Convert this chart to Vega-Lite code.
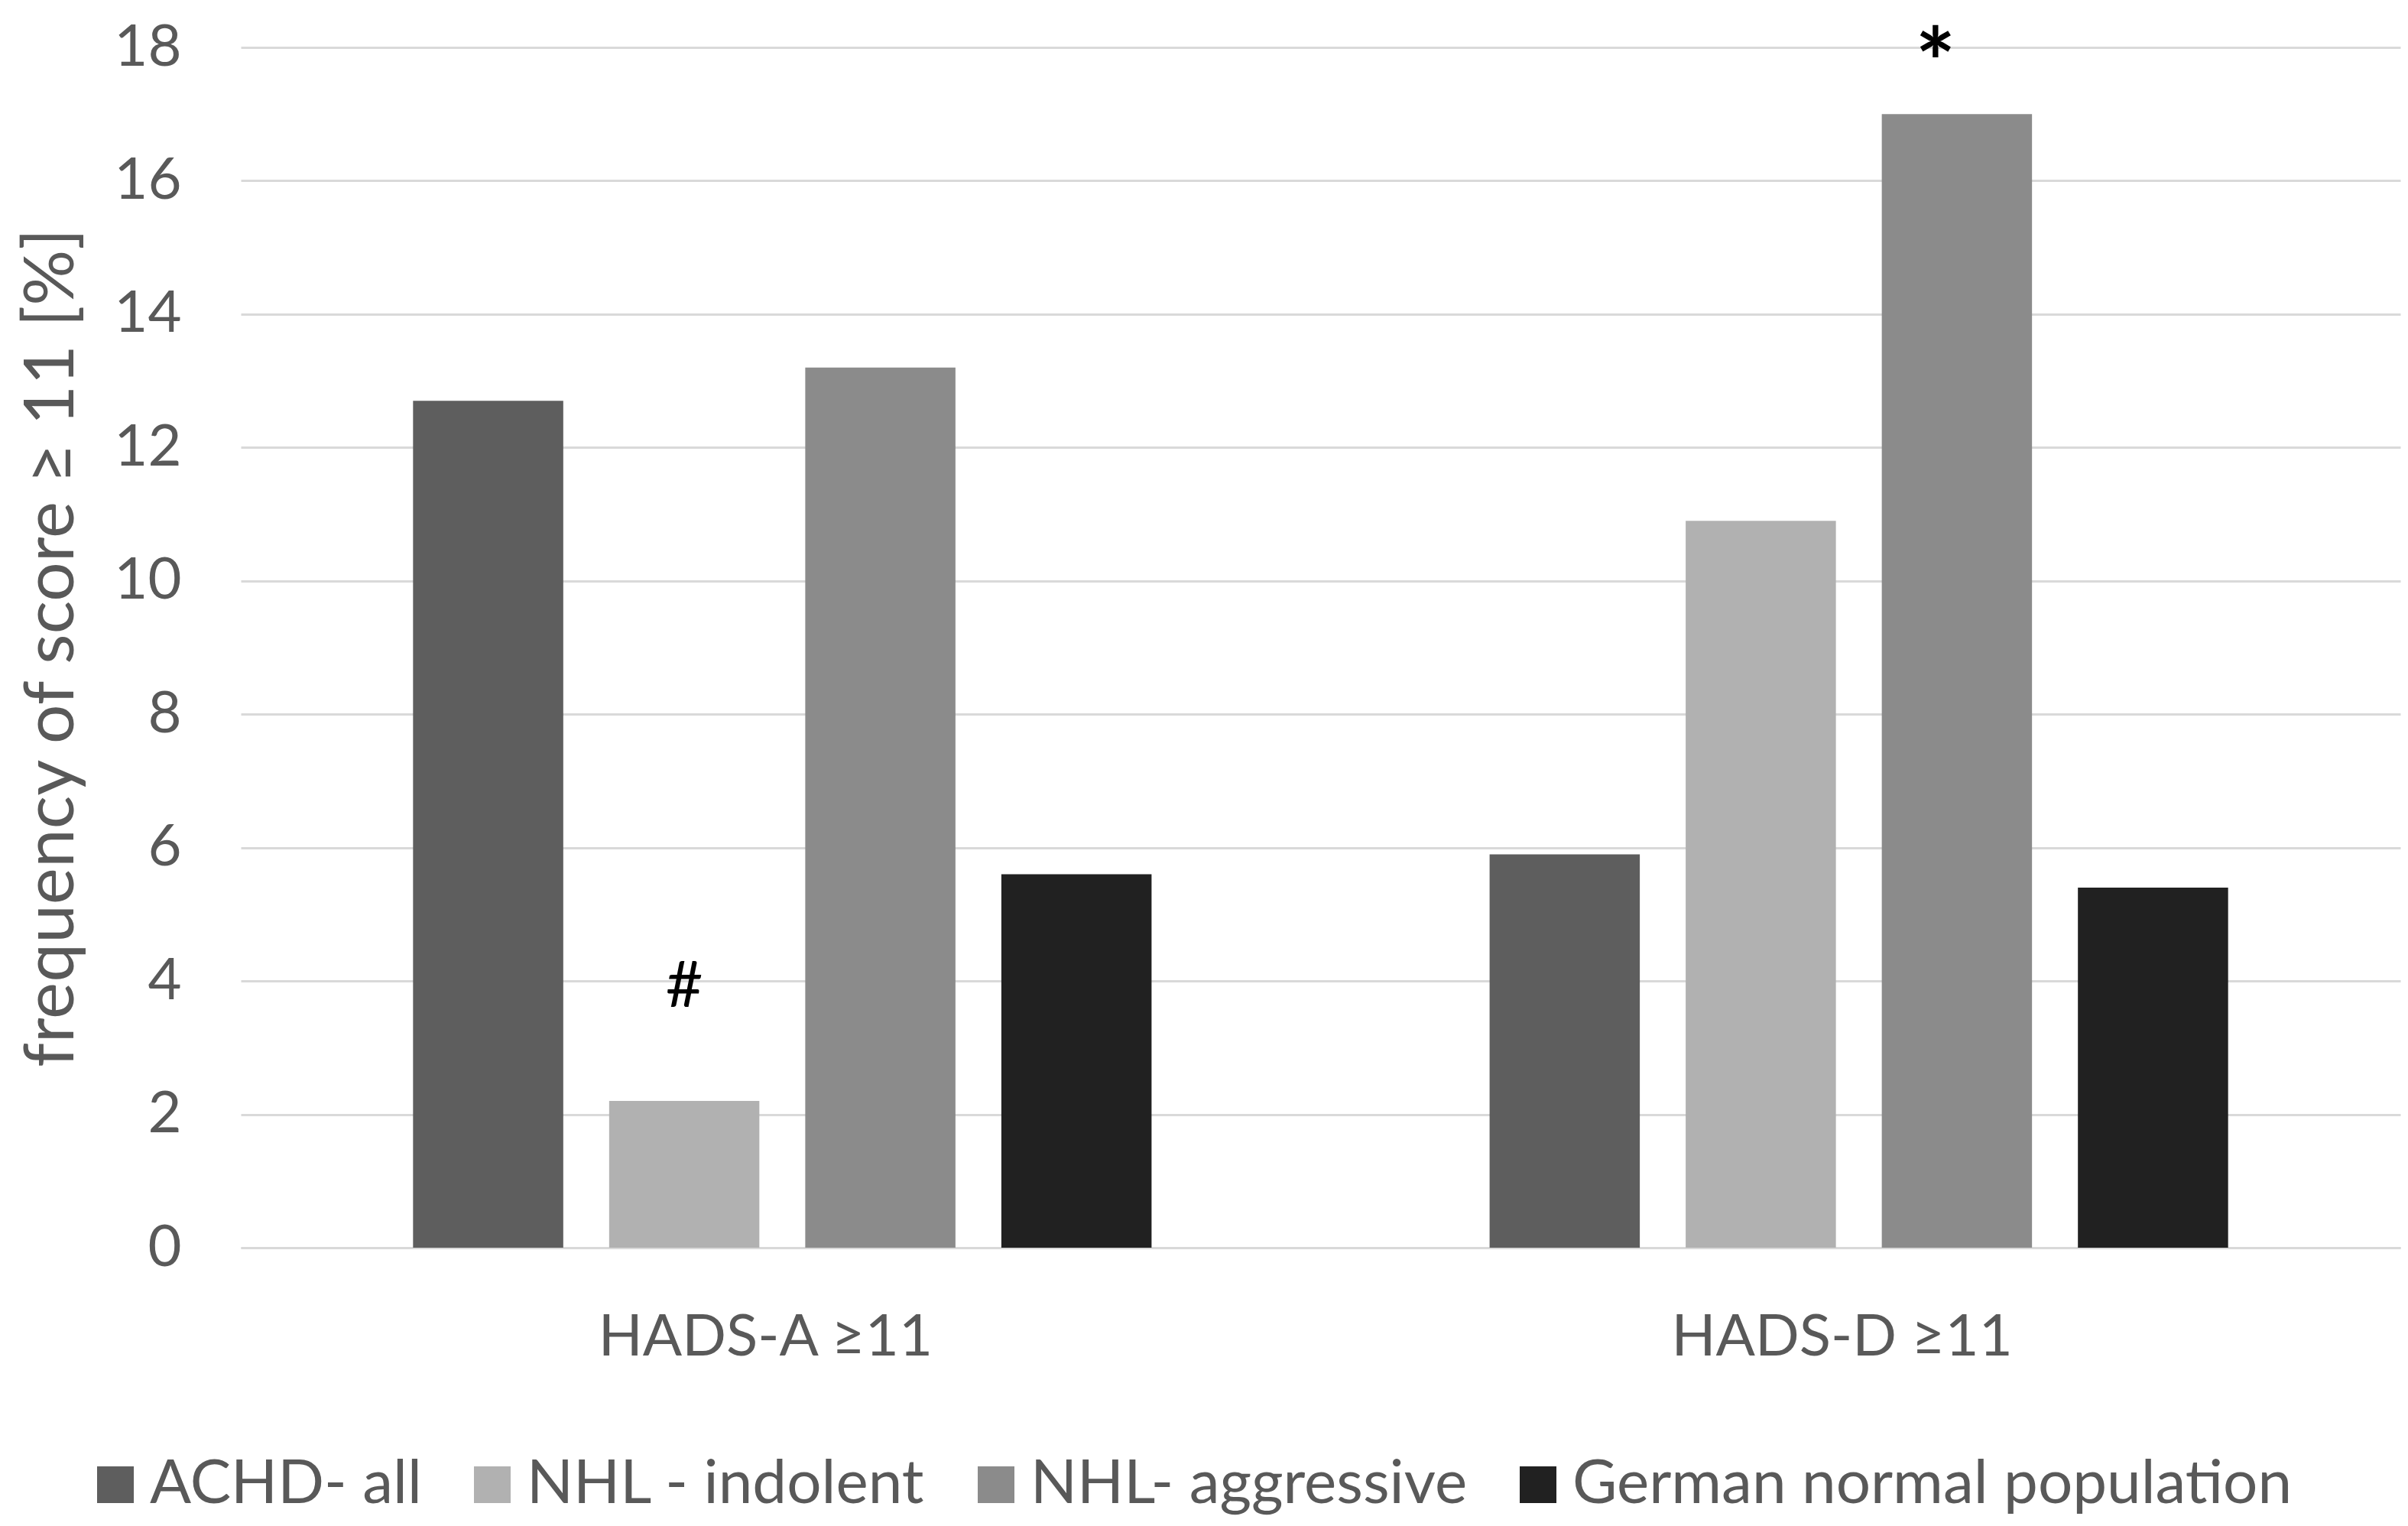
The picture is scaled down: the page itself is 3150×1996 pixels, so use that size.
{
  "$schema": "https://vega.github.io/schema/vega-lite/v6.json",
  "width": 2825,
  "height": 1570,
  "autosize": {"type": "none"},
  "padding": {"left": 315, "top": 62, "right": 10, "bottom": 364},
  "background": "white",
  "config": {"font": "Lato", "view": {"stroke": null}},
  "datasets": {
    "bars": [
      {"group": "HADS-A ≥11", "category": "ACHD- all", "value": 12.7},
      {"group": "HADS-A ≥11", "category": "NHL - indolent", "value": 2.2},
      {"group": "HADS-A ≥11", "category": "NHL- aggressive", "value": 13.2},
      {"group": "HADS-A ≥11", "category": "German normal population", "value": 5.6},
      {"group": "HADS-D ≥11", "category": "ACHD- all", "value": 5.9},
      {"group": "HADS-D ≥11", "category": "NHL - indolent", "value": 10.9},
      {"group": "HADS-D ≥11", "category": "NHL- aggressive", "value": 17.0},
      {"group": "HADS-D ≥11", "category": "German normal population", "value": 5.4}
    ],
    "notes": [
      {"group": "HADS-A ≥11", "category": "NHL - indolent", "label": "#", "pos": 3.9},
      {"group": "HADS-D ≥11", "category": "NHL- aggressive", "label": "*", "pos": 17.25}
    ]
  },
  "encoding": {
    "x": {
      "field": "group",
      "type": "nominal",
      "scale": {"domain": ["HADS-A ≥11", "HADS-D ≥11"], "paddingInner": 0.314, "paddingOuter": 0.16},
      "axis": {
        "title": null,
        "labelAngle": 0,
        "ticks": false,
        "domain": true,
        "domainColor": "#d9d9d9",
        "domainWidth": 3,
        "labelPadding": 80,
        "labelOffset": -22,
        "labelFontSize": 76,
        "labelColor": "#595959",
        "labelLimit": 0
      }
    },
    "xOffset": {
      "field": "category",
      "type": "nominal",
      "scale": {
        "domain": ["ACHD- all", "NHL - indolent", "NHL- aggressive", "German normal population"],
        "paddingInner": 0.234,
        "paddingOuter": 0
      }
    }
  },
  "layer": [
    {
      "data": {"name": "bars"},
      "mark": {"type": "bar"},
      "encoding": {
        "y": {
          "field": "value",
          "type": "quantitative",
          "scale": {"domain": [0, 18], "nice": false},
          "axis": {
            "title": "frequency of score ≥ 11 [%]",
            "titleFontSize": 91,
            "titleFontWeight": "normal",
            "titleColor": "#595959",
            "titlePadding": 34,
            "values": [0, 2, 4, 6, 8, 10, 12, 14, 16, 18],
            "format": "d",
            "grid": true,
            "gridColor": "#d9d9d9",
            "gridWidth": 3,
            "ticks": false,
            "domain": false,
            "labelPadding": 78,
            "labelFontSize": 76,
            "labelColor": "#595959"
          }
        },
        "color": {
          "field": "category",
          "type": "nominal",
          "scale": {
            "domain": ["ACHD- all", "NHL - indolent", "NHL- aggressive", "German normal population"],
            "range": ["#5e5e5e", "#b1b1b1", "#8b8b8b", "#212121"]
          },
          "legend": {
            "title": null,
            "orient": "none",
            "direction": "horizontal",
            "legendX": -204,
            "legendY": 1840,
            "symbolType": "square",
            "symbolSize": 2304,
            "symbolStrokeWidth": 0,
            "symbolOpacity": 1,
            "labelFontSize": 80,
            "labelColor": "#595959",
            "labelOffset": 5,
            "columnPadding": 52,
            "labelLimit": 2000
          }
        }
      }
    },
    {
      "data": {"name": "notes"},
      "transform": [{"filter": "datum.label === '#'"}],
      "mark": {"type": "text", "fontSize": 84, "color": "black", "baseline": "middle", "align": "center"},
      "encoding": {
        "y": {"field": "pos", "type": "quantitative"},
        "text": {"field": "label"}
      }
    },
    {
      "data": {"name": "notes"},
      "transform": [{"filter": "datum.label === '*'"}],
      "mark": {"type": "text", "fontSize": 124, "fontWeight": "bold", "color": "black", "baseline": "alphabetic", "align": "center", "dx": -28},
      "encoding": {
        "y": {"field": "pos", "type": "quantitative"},
        "text": {"field": "label"}
      }
    }
  ]
}
